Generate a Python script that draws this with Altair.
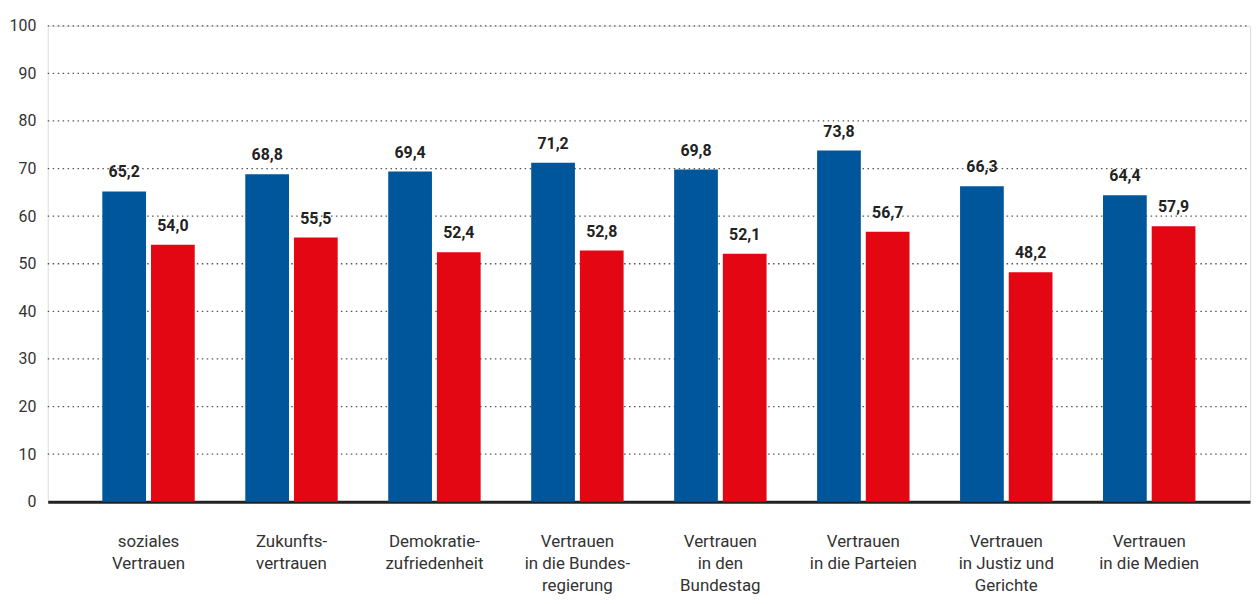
import altair as alt
import pandas as pd

categories = [
    "soziales|Vertrauen",
    "Zukunfts-|vertrauen",
    "Demokratie-|zufriedenheit",
    "Vertrauen|in die Bundes-|regierung",
    "Vertrauen|in den|Bundestag",
    "Vertrauen|in die Parteien",
    "Vertrauen|in Justiz und|Gerichte",
    "Vertrauen|in die Medien",
]
series = ["Serie 1", "Serie 2"]
values_1 = [65.2, 68.8, 69.4, 71.2, 69.8, 73.8, 66.3, 64.4]
values_2 = [54.0, 55.5, 52.4, 52.8, 52.1, 56.7, 48.2, 57.9]
colors = ["#00569a", "#e30613"]
y_ticks = [0, 10, 20, 30, 40, 50, 60, 70, 80, 90, 100]
grid_values = [10, 20, 30, 40, 50, 60, 70, 80, 90, 100]

rows = []
for c, a, b in zip(categories, values_1, values_2):
    rows.append({"cat": c, "serie": series[0], "value": a})
    rows.append({"cat": c, "serie": series[1], "value": b})
df = pd.DataFrame(rows)
grid_df = pd.DataFrame({"value": grid_values})

FONT = "Liberation Sans Narrow, Roboto, sans-serif"

x = alt.X(
    "cat:N",
    sort=categories,
    scale=alt.Scale(paddingInner=0, paddingOuter=0.205),
    axis=alt.Axis(
        title=None,
        labelExpr="split(datum.label, '|')",
        labelAngle=0,
        labelFont=FONT,
        labelFontSize=17,
        labelColor="#333333",
        labelLineHeight=22,
        labelPadding=32,
        ticks=False,
        domainColor="#222222",
        domainWidth=3,
        grid=False,
    ),
)
xo = alt.XOffset("serie:N", sort=series, scale=alt.Scale(paddingInner=0.102, paddingOuter=0.519))
y = alt.Y(
    "value:Q",
    scale=alt.Scale(domain=[0, 100], nice=False),
    axis=alt.Axis(
        title=None,
        values=y_ticks,
        domain=False,
        ticks=False,
        grid=False,
        labelFont=FONT,
        labelFontSize=16,
        labelColor="#333333",
        labelPadding=12,
    ),
)
color = alt.Color("serie:N", sort=series, scale=alt.Scale(domain=series, range=colors), legend=None)

grid = alt.Chart(grid_df).mark_rule(
    color="#555555", strokeWidth=1.3, strokeDash=[1.5, 3.5]
).encode(
    y=alt.Y("value:Q"),
    x=alt.value(0),
    x2=alt.value("width"),
)

base = alt.Chart(df).encode(x=x, xOffset=xo, y=y)
bars = base.mark_bar().encode(color=color)
labels = base.mark_text(
    dy=-11, baseline="bottom", font=FONT, fontSize=16, fontWeight="bold", color="#222222"
).transform_calculate(
    lbl="replace(format(datum.value, '.1f'), '.', ',')"
).encode(text="lbl:N")

chart = (
    alt.layer(grid, bars, labels)
    .properties(
        width=1210,
        height=479,
        autosize=alt.AutoSizeParams(type="none"),
        padding={"left": 40, "top": 16, "right": 2, "bottom": 92},
    )
    .configure_view(strokeWidth=0, stroke="transparent")
    .configure(background="white")
)

chart.save("out.html", embed_options={"renderer": "svg", "actions": False})
